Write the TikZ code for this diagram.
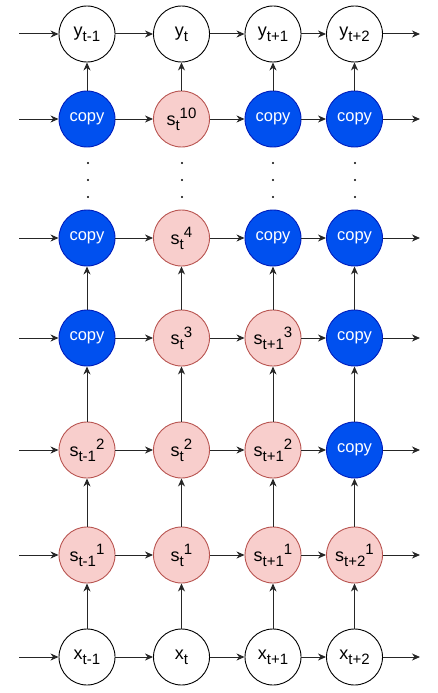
\documentclass[tikz,border=0pt]{standalone}
\usepackage{fontspec}
\setmainfont{Liberation Sans}
\usetikzlibrary{arrows.meta}
\definecolor{cpyfill}{HTML}{0050EF}
\definecolor{cpydraw}{HTML}{001DBC}
\definecolor{sfill}{HTML}{F8CECC}
\definecolor{sdraw}{HTML}{B85450}
\newcommand{\lbl}[3]{#1\raisebox{-5pt}{\fontsize{15}{15}\selectfont #2}\raisebox{7pt}{\fontsize{15}{15}\selectfont #3}}
\tikzset{
  nd/.style={circle, minimum size=56pt, inner sep=0pt, line width=0.9pt, font=\fontsize{18}{18}\selectfont},
  wn/.style={nd, draw=black, fill=white},
  sn/.style={nd, draw=sdraw, fill=sfill},
  cn/.style={nd, draw=cpydraw, fill=cpyfill, text=white, font=\fontsize{16.5}{16.5}\selectfont},
  arr/.style={draw=black!85, line width=1pt, -{Stealth[length=8pt,width=7pt,inset=2.5pt]}},
}
\begin{document}
\begin{tikzpicture}[x=1pt,y=-1pt]
\useasboundingbox (0,0) rectangle (437,693);
% columns 87,181.5,273,354.5 ; rows 34,119,238,338,450,555,657
% row 1
\node[wn] (n11) at (87,34) {\lbl{y}{t-1}{}};
\node[wn] (n12) at (181.5,34) {\lbl{y}{t}{}};
\node[wn] (n13) at (273,34) {\lbl{y}{t+1}{}};
\node[wn] (n14) at (354.5,34) {\lbl{y}{t+2}{}};
% row 2
\node[cn] (n21) at (87,119) {copy};
\node[sn] (n22) at (181.5,119) {\lbl{s}{t}{10}};
\node[cn] (n23) at (273,119) {copy};
\node[cn] (n24) at (354.5,119) {copy};
% row 3
\node[cn] (n31) at (87,238) {copy};
\node[sn] (n32) at (181.5,238) {\lbl{s}{t}{4}};
\node[cn] (n33) at (273,238) {copy};
\node[cn] (n34) at (354.5,238) {copy};
% row 4
\node[cn] (n41) at (87,338) {copy};
\node[sn] (n42) at (181.5,338) {\lbl{s}{t}{3}};
\node[sn] (n43) at (273,338) {\lbl{s}{t+1}{3}};
\node[cn] (n44) at (354.5,338) {copy};
% row 5
\node[sn] (n51) at (87,450) {\lbl{s}{t-1}{2}};
\node[sn] (n52) at (181.5,450) {\lbl{s}{t}{2}};
\node[sn] (n53) at (273,450) {\lbl{s}{t+1}{2}};
\node[cn] (n54) at (354.5,450) {copy};
% row 6
\node[sn] (n61) at (87,555) {\lbl{s}{t-1}{1}};
\node[sn] (n62) at (181.5,555) {\lbl{s}{t}{1}};
\node[sn] (n63) at (273,555) {\lbl{s}{t+1}{1}};
\node[sn] (n64) at (354.5,555) {\lbl{s}{t+2}{1}};
% row 7
\node[wn] (n71) at (87,657) {\lbl{x}{t-1}{}};
\node[wn] (n72) at (181.5,657) {\lbl{x}{t}{}};
\node[wn] (n73) at (273,657) {\lbl{x}{t+1}{}};
\node[wn] (n74) at (354.5,657) {\lbl{x}{t+2}{}};
% free ends
\foreach \r/\yy in {1/34,2/119,3/238,4/338,5/450,6/555,7/657}{
  \coordinate (l\r) at (19,\yy);
  \coordinate (r\r) at (420,\yy);
}
% horizontal arrows
\foreach \r in {1,...,7}{
  \draw[arr] (l\r) -- (n\r1);
  \draw[arr] (n\r1) -- (n\r2);
  \draw[arr] (n\r2) -- (n\r3);
  \draw[arr] (n\r3) -- (n\r4);
  \draw[arr] (n\r4) -- (r\r);
}
% vertical arrows
\foreach \c in {1,...,4}{
  \draw[arr] (n7\c) -- (n6\c);
  \draw[arr] (n6\c) -- (n5\c);
  \draw[arr] (n5\c) -- (n4\c);
  \draw[arr] (n4\c) -- (n3\c);
  \draw[arr] (n2\c) -- (n1\c);
}
% dots
\foreach \xx in {88,182,273,355}{
  \foreach \yy in {163,180,197}{
    \fill[black] (\xx,\yy) circle (1.1pt);
  }
}
\end{tikzpicture}
\end{document}
